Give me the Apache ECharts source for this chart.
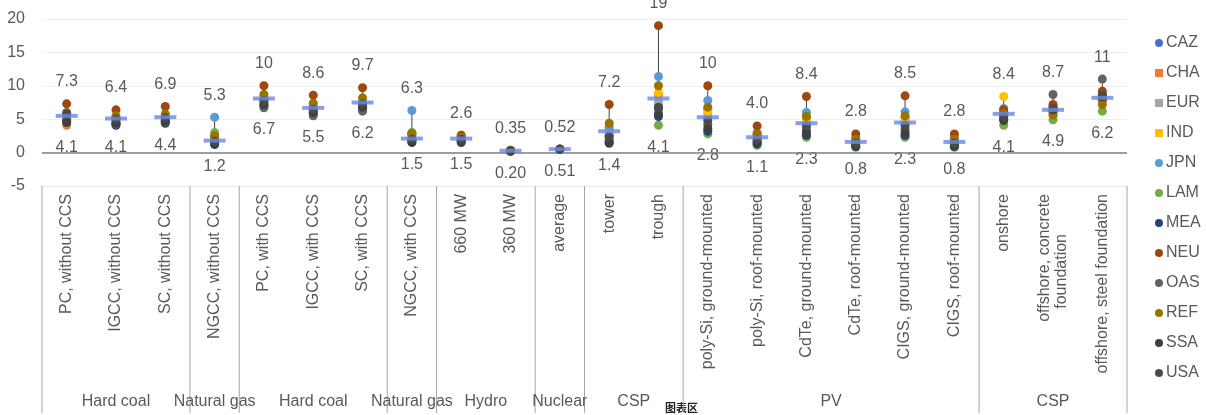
<!DOCTYPE html>
<html><head><meta charset="utf-8">
<script src="https://cdn.jsdelivr.net/npm/echarts@6/dist/echarts.min.js"></script>
<style>html,body{margin:0;padding:0;background:#fff}#c{width:1206px;height:415px}</style>
</head><body><div id="c"></div>
<script>
// ---------- DATA ----------
const categories = [
  'PC, without CCS','IGCC, without CCS','SC, without CCS','NGCC, without CCS',
  'PC, with CCS','IGCC, with CCS','SC, with CCS','NGCC, with CCS',
  '660 MW','360 MW','average','tower','trough',
  'poly-Si, ground-mounted','poly-Si, roof-mounted','CdTe, ground-mounted','CdTe, roof-mounted',
  'CIGS, ground-mounted','CIGS, roof-mounted',
  'onshore','offshore, concrete\nfoundation\u00a0\u00a0\u00a0\u00a0\u00a0\u00a0\u00a0\u00a0\u00a0','offshore, steel foundation'
];
const groupNames = ['Hard coal','Natural gas','Hard coal','Natural gas','Hydro','Nuclear','CSP','PV','CSP'];
const groupSizes = [3,1,3,1,2,1,2,6,3];

const regionNames = ['CAZ','CHA','EUR','IND','JPN','LAM','MEA','NEU','OAS','REF','SSA','USA'];
const CAZ = [5.6,5.1,5.3,1.5,8.0,6.6,7.4,1.8,2.0,0.27,0.52,2.6,7.0,5.2,2.2,4.3,1.6,4.4,1.6,5.6,6.8,8.5];
const CHA = [4.1,4.6,4.8,1.9,7.4,6.2,7.0,2.2,2.4,0.30,0.52,3.4,8.6,6.5,2.7,5.2,2.2,5.3,2.2,6.2,6.0,7.8];
const EUR = [5.2,4.8,5.0,2.0,7.6,6.4,7.2,2.4,2.2,0.28,0.51,3.0,7.6,5.8,2.4,4.6,1.7,4.7,1.7,6.0,6.5,8.2];
const IND = [4.8,5.0,5.6,2.2,8.5,7.2,8.0,2.6,2.5,0.32,0.52,3.6,9.0,6.2,2.6,5.0,1.9,5.1,1.9,8.4,5.8,7.6];
const JPN = [5.5,5.2,5.4,5.3,8.2,6.8,7.6,6.3,2.1,0.29,0.52,3.8,11.4,7.8,3.0,6.0,2.1,6.1,2.1,6.6,7.0,8.8];
const LAM = [5.0,4.5,4.9,3.0,8.0,6.5,7.3,3.0,1.8,0.24,0.51,2.2,4.1,2.8,1.1,2.3,0.8,2.3,0.8,4.1,4.9,6.2];
const MEA = [4.6,4.1,4.4,1.2,7.0,5.8,6.6,1.5,1.7,0.22,0.51,1.8,5.4,3.2,1.3,2.6,0.9,2.6,0.9,5.0,6.2,8.0];
const NEU = [7.3,6.4,6.9,2.4,10.0,8.6,9.7,2.8,2.6,0.35,0.52,7.2,19.0,10.0,4.0,8.4,2.8,8.5,2.8,6.4,7.2,9.2];
const OAS = [4.9,4.3,4.6,1.6,6.7,5.5,6.2,1.9,1.9,0.26,0.51,1.6,6.5,4.2,1.7,3.4,1.2,3.5,1.2,5.4,8.7,11.0];
const REF = [6.0,5.5,5.8,2.5,8.7,7.4,8.2,2.9,2.3,0.31,0.52,4.4,10.0,6.8,2.8,5.4,2.0,5.5,2.0,5.8,5.6,7.2];
const SSA = [4.5,4.4,4.7,1.3,7.2,6.0,6.8,1.6,1.5,0.20,0.51,1.4,5.8,3.6,1.5,3.0,1.0,3.0,1.0,4.8,6.4,8.4];
const USA = [5.8,5.0,5.2,1.7,7.8,6.5,7.3,2.0,2.0,0.27,0.52,2.4,6.8,4.8,2.0,4.0,1.4,4.1,1.4,5.4,6.6,8.6];
const averages = [5.5,5.1,5.3,1.8,8.1,6.7,7.5,2.1,2.1,0.28,0.52,3.2,8.1,5.3,2.3,4.4,1.6,4.5,1.6,5.8,6.4,8.2];
const maxLabels = ['7.3','6.4','6.9','5.3','10','8.6','9.7','6.3','2.6','0.35','0.52','7.2','19','10','4.0','8.4','2.8','8.5','2.8','8.4','8.7','11'];
const minLabels = ['4.1','4.1','4.4','1.2','6.7','5.5','6.2','1.5','1.5','0.20','0.51','1.4','4.1','2.8','1.1','2.3','0.8','2.3','0.8','4.1','4.9','6.2'];
const yTicks = [-5, 0, 5, 10, 15, 20];

const regionData = [CAZ,CHA,EUR,IND,JPN,LAM,MEA,NEU,OAS,REF,SSA,USA];
const regionColors = ['#4472C4','#ED7D31','#A5A5A5','#FFC000','#5B9BD5','#70AD47','#264478','#9E480E','#636363','#997300','#3F3F3F','#4A4A4A'];
const regionIcons = ['circle','rect','rect','rect','circle','circle','circle','circle','circle','circle','circle','circle'];

// ---------- CHART ----------
const FONT = '"Liberation Sans", Arial, sans-serif';
const TXT = '#595959';
const chart = echarts.init(document.getElementById('c'), null, {renderer:'canvas'});

const rangeData = categories.map((c,i)=>{
  const vals = regionData.map(a=>a[i]);
  return [i, Math.min(...vals), Math.max(...vals)];
});
let acc = 0;
const groupData = groupSizes.map((n,g)=>{ const s=acc; acc+=n; return [s, acc-1, g]; });

const series = [];
series.push({
  type:'custom', name:'range', silent:true, z:1,
  data: rangeData,
  encode:{x:0, y:[1,2]},
  renderItem:(params, api)=>{
    const i = api.value(0);
    const pMin = api.coord([i, api.value(1)]);
    const pMax = api.coord([i, api.value(2)]);
    return {type:'group', children:[
      {type:'line', shape:{x1:pMin[0],y1:pMin[1],x2:pMax[0],y2:pMax[1]}, style:{stroke:'#404040', lineWidth:1}},
      {type:'text', x:pMax[0], y:pMax[1]-22, style:{text:maxLabels[i], align:'center', verticalAlign:'middle', fill:TXT, font:'16px '+FONT}},
      {type:'text', x:pMin[0], y:pMin[1]+22, style:{text:minLabels[i], align:'center', verticalAlign:'middle', fill:TXT, font:'16px '+FONT}}
    ]};
  },
  markLine:{silent:true, symbol:'none', label:{show:false}, lineStyle:{color:'#7f7f7f', width:1.5, type:'solid'}, data:[{yAxis:0}]}
});
regionNames.forEach((r,k)=>{
  series.push({type:'scatter', name:r, data:regionData[k], symbol:'circle', symbolSize:9,
    itemStyle:{color:regionColors[k], opacity:1}, z:2+k});
});
series.push({type:'scatter', name:'average', data:averages, symbol:'rect', symbolSize:[22,4],
  itemStyle:{color:'#6A88E2'}, z:30, silent:true});
series.push({
  type:'custom', name:'groups', silent:true, z:5,
  data: groupData,
  encode:{x:0},
  renderItem:(params, api)=>{
    const s = api.value(0), e = api.value(1), g = api.value(2);
    const bw = api.size([1,0])[0];
    const xs = api.coord([s,0])[0]-bw/2;
    const xe = api.coord([e,0])[0]+bw/2;
    const yb = api.coord([0,-5])[1];
    const children = [
      {type:'line', shape:{x1:xe,y1:yb,x2:xe,y2:413}, style:{stroke:'#a6a6a6', lineWidth:1}},
      {type:'text', x:(xs+xe)/2, y:402, style:{text:groupNames[g], align:'center', verticalAlign:'middle', fill:TXT, font:'16px '+FONT}}
    ];
    if (g===0) children.push({type:'line', shape:{x1:xs,y1:yb,x2:xs,y2:413}, style:{stroke:'#a6a6a6', lineWidth:1}});
    return {type:'group', children};
  }
});

chart.setOption({
  animation:false,
  backgroundColor:'#fff',
  grid:{left:42, right:79, top:19, bottom:229},
  xAxis:{type:'category', data:categories, boundaryGap:true,
    axisLine:{show:false, onZero:false}, axisTick:{show:false},
    axisLabel:{interval:0, rotate:90, margin:8, color:TXT, fontSize:16, fontFamily:FONT, lineHeight:17}},
  yAxis:{type:'value', min:yTicks[0], max:yTicks[yTicks.length-1], interval:5,
    axisLine:{show:false}, axisTick:{show:false},
    axisLabel:{color:TXT, fontSize:16, fontFamily:FONT, margin:17},
    splitLine:{show:true, lineStyle:{color:'#efefef', width:1}}},
  legend:{orient:'vertical', left:1150, top:30, itemWidth:8, itemHeight:8, itemGap:14,
    data: regionNames.map((r,k)=>({name:r, icon:regionIcons[k]})),
    textStyle:{color:TXT, fontSize:16, fontFamily:FONT, lineHeight:16, padding:[0,0,0,-2]}},
  graphic:[{type:'text', left:665, top:402, style:{text:'图表区', fill:'#222', font:'bold 11px "Noto Sans CJK SC", sans-serif'}}],
  series
});
</script></body></html>
